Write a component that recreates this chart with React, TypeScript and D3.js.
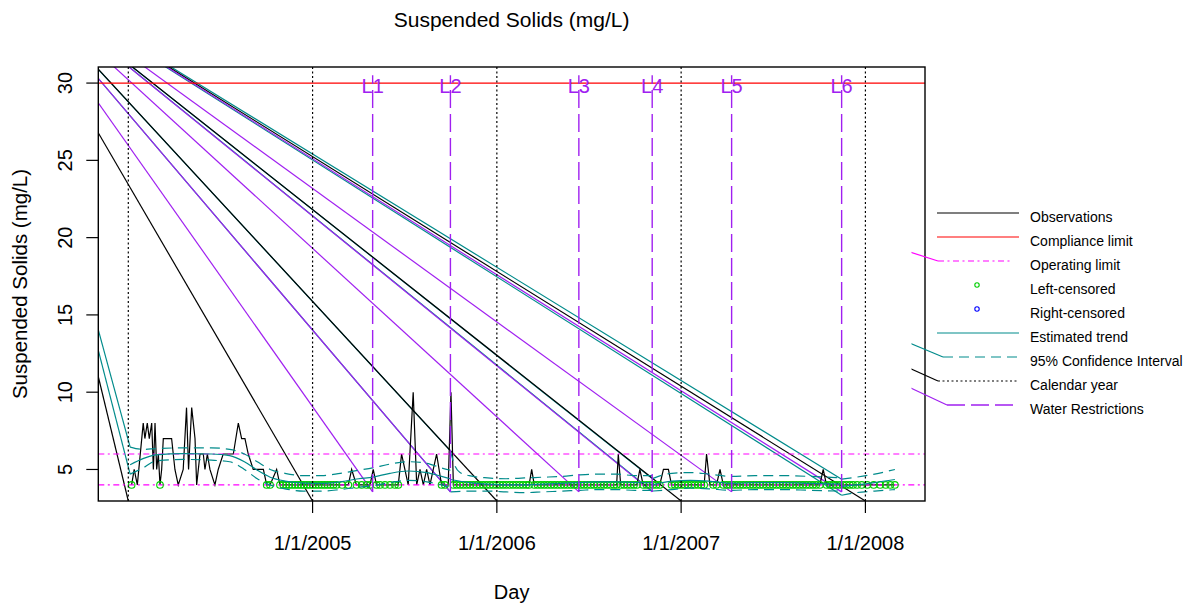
import React from 'react';
import * as d3 from 'd3';

// ---------- data (decimal years, mg/L) ----------
const xTickYears = [2005, 2006, 2007, 2008];
const xTickLabels = ['1/1/2005', '1/1/2006', '1/1/2007', '1/1/2008'];
const yTicks = [5, 10, 15, 20, 25, 30];
const calendarYears = [2004, 2005, 2006, 2007, 2008];
const restrictionLabels = ['L1', 'L2', 'L3', 'L4', 'L5', 'L6'];
const restrictionDates = [2005.326, 2005.748, 2006.445, 2006.843, 2007.274, 2007.871];
const restrictionSpan = [3.55, 30.5];
const complianceLimit = 30;
const operatingLimits = [6, 4];
// point from which the renderer's stray strokes start (outside plot, upper left)
const strayOrigin: [number, number] = [2003.293, 37.92];

// [year, value, leftCensored]
const observations: [number, number, number][] = [
  [2004.018, 4, 1], [2004.032, 5, 0], [2004.049, 4, 0], [2004.081, 8, 0], [2004.090, 7, 0], [2004.103, 8, 0],
  [2004.114, 7, 0], [2004.127, 8, 0], [2004.136, 5, 0], [2004.145, 8, 0], [2004.154, 5, 0], [2004.163, 6, 0],
  [2004.172, 4, 1], [2004.181, 5, 0], [2004.190, 7, 0], [2004.235, 7, 0], [2004.253, 5, 0], [2004.271, 4, 0],
  [2004.298, 5, 0], [2004.316, 9, 0], [2004.327, 5, 0], [2004.344, 9, 0], [2004.362, 7, 0], [2004.371, 4, 0],
  [2004.389, 6, 0], [2004.407, 6, 0], [2004.416, 5, 0], [2004.429, 6, 0], [2004.443, 5, 0], [2004.470, 4, 0],
  [2004.488, 5, 0], [2004.515, 6, 0], [2004.570, 6, 0], [2004.597, 8, 0], [2004.615, 7, 0], [2004.633, 7, 0],
  [2004.651, 6, 0], [2004.678, 5, 0], [2004.733, 5, 0], [2004.751, 4, 1], [2004.769, 4, 1], [2004.805, 5, 0],
  [2004.823, 4, 1], [2004.841, 4, 1], [2004.857, 4, 1], [2004.873, 4, 1], [2004.889, 4, 1], [2004.905, 4, 1],
  [2004.921, 4, 1], [2004.937, 4, 1], [2004.953, 4, 1], [2004.969, 4, 1], [2004.985, 4, 1], [2005.001, 4, 1],
  [2005.017, 4, 1], [2005.033, 4, 1], [2005.049, 4, 1], [2005.065, 4, 1], [2005.081, 4, 1], [2005.097, 4, 1],
  [2005.113, 4, 1], [2005.130, 4, 1], [2005.160, 4, 1], [2005.194, 4, 1], [2005.212, 5, 0], [2005.238, 4, 1],
  [2005.266, 4, 1], [2005.293, 4, 1], [2005.312, 4, 1], [2005.329, 5, 0], [2005.347, 4, 1], [2005.366, 4, 1],
  [2005.393, 4, 1], [2005.420, 4, 1], [2005.447, 4, 1], [2005.465, 4, 1], [2005.483, 6, 0], [2005.519, 4, 0],
  [2005.546, 10, 0], [2005.565, 4, 0], [2005.583, 5, 0], [2005.601, 4, 0], [2005.619, 5, 0], [2005.637, 4, 0],
  [2005.655, 5, 0], [2005.673, 6, 0], [2005.700, 4, 1], [2005.718, 4, 1], [2005.736, 4, 0], [2005.751, 10, 0],
  [2005.764, 4, 1], [2005.782, 4, 1], [2005.800, 4, 1], [2005.818, 4, 1], [2005.836, 4, 1], [2005.854, 4, 1],
  [2005.872, 4, 1], [2005.890, 4, 1], [2005.908, 4, 1], [2005.926, 4, 1], [2005.944, 4, 1], [2005.962, 4, 1],
  [2005.980, 4, 1], [2005.998, 4, 1], [2006.016, 4, 1], [2006.034, 4, 1], [2006.052, 4, 1], [2006.070, 4, 1],
  [2006.088, 4, 1], [2006.106, 4, 1], [2006.124, 4, 1], [2006.142, 4, 1], [2006.160, 4, 1], [2006.175, 4, 1],
  [2006.189, 5, 0], [2006.203, 4, 1], [2006.221, 4, 1], [2006.239, 4, 1], [2006.257, 4, 1], [2006.275, 4, 1],
  [2006.293, 4, 1], [2006.311, 4, 1], [2006.329, 4, 1], [2006.347, 4, 1], [2006.365, 4, 1], [2006.383, 4, 1],
  [2006.401, 4, 1], [2006.419, 4, 1], [2006.437, 4, 1], [2006.455, 4, 1], [2006.473, 4, 1], [2006.491, 4, 1],
  [2006.509, 4, 1], [2006.527, 4, 1], [2006.545, 4, 1], [2006.563, 4, 1], [2006.581, 4, 1], [2006.599, 4, 1],
  [2006.617, 4, 1], [2006.635, 4, 1], [2006.650, 4, 1], [2006.659, 6, 0], [2006.672, 4, 1], [2006.690, 4, 1],
  [2006.708, 4, 1], [2006.726, 4, 1], [2006.744, 4, 1], [2006.760, 4, 1], [2006.776, 5, 0], [2006.794, 4, 1],
  [2006.812, 4, 1], [2006.830, 4, 1], [2006.848, 4, 1], [2006.866, 4, 1], [2006.884, 4, 1], [2006.904, 5, 0],
  [2006.931, 5, 0], [2006.948, 4, 1], [2006.966, 4, 1], [2006.984, 4, 1], [2007.002, 4, 1], [2007.020, 4, 1],
  [2007.038, 4, 1], [2007.056, 4, 1], [2007.074, 4, 1], [2007.092, 4, 1], [2007.110, 4, 1], [2007.125, 4, 1],
  [2007.138, 6, 0], [2007.156, 4, 0], [2007.174, 4, 1], [2007.192, 4, 1], [2007.211, 5, 0], [2007.229, 4, 1],
  [2007.247, 4, 1], [2007.265, 4, 1], [2007.283, 4, 1], [2007.301, 4, 1], [2007.319, 4, 1], [2007.337, 4, 1],
  [2007.355, 4, 1], [2007.373, 4, 1], [2007.391, 4, 1], [2007.409, 4, 1], [2007.427, 4, 1], [2007.445, 4, 1],
  [2007.463, 4, 1], [2007.481, 4, 1], [2007.499, 4, 1], [2007.517, 4, 1], [2007.535, 4, 1], [2007.553, 4, 1],
  [2007.571, 4, 1], [2007.589, 4, 1], [2007.607, 4, 1], [2007.625, 4, 1], [2007.643, 4, 1], [2007.661, 4, 1],
  [2007.679, 4, 1], [2007.697, 4, 1], [2007.715, 4, 1], [2007.733, 4, 1], [2007.753, 4, 1], [2007.771, 5, 0],
  [2007.789, 4, 1], [2007.807, 4, 1], [2007.825, 4, 1], [2007.843, 4, 1], [2007.861, 4, 1], [2007.879, 4, 1],
  [2007.897, 4, 1], [2007.915, 4, 1], [2007.933, 4, 1], [2007.955, 4, 1], [2007.980, 4, 1], [2008.010, 4, 1],
  [2008.045, 4, 1], [2008.080, 4, 1], [2008.110, 4, 1], [2008.135, 4, 1], [2008.160, 4, 1],
];

const rightCensored: [number, number][] = [];

// Estimated trend and 95% CI, drawn in pieces
const trendSegments: [number, number][][] = [
  [[2004.01, 5.3], [2004.08, 5.7], [2004.15, 5.95], [2004.3, 6.02], [2004.45, 6.0], [2004.55, 5.9], [2004.63, 5.5], [2004.7, 4.95], [2004.77, 4.5], [2004.85, 4.25], [2004.95, 4.12], [2005.05, 4.1], [2005.15, 4.2], [2005.25, 4.4], [2005.326, 4.5], [2005.42, 4.75], [2005.52, 4.9], [2005.62, 4.8], [2005.7, 4.55], [2005.748, 4.4]],
  [[2005.748, 4.35], [2005.85, 4.15], [2005.95, 4.05], [2006.05, 4.0], [2006.15, 4.0], [2006.25, 4.05], [2006.35, 4.1], [2006.445, 4.15], [2006.55, 4.2], [2006.65, 4.2], [2006.75, 4.15], [2006.843, 4.15]],
  [[2006.843, 4.0], [2006.95, 4.25], [2007.05, 4.3], [2007.15, 4.25], [2007.274, 4.1], [2007.4, 4.15], [2007.55, 4.15], [2007.7, 4.1], [2007.871, 4.05]],
  [[2007.871, 3.9], [2007.95, 4.0], [2008.05, 4.15], [2008.16, 4.35]],
];
const ciUpperSegments: [number, number][][] = [
  [[2004.01, 6.45], [2004.08, 6.3], [2004.15, 6.35], [2004.3, 6.4], [2004.45, 6.4], [2004.55, 6.3], [2004.63, 6.0], [2004.7, 5.5], [2004.77, 5.0], [2004.85, 4.75], [2004.95, 4.6], [2005.05, 4.6], [2005.15, 4.75], [2005.25, 4.95], [2005.326, 5.1], [2005.42, 5.35], [2005.52, 5.5], [2005.62, 5.4], [2005.7, 5.1], [2005.748, 4.95]],
  [[2005.748, 6.2], [2005.77, 5.3], [2005.8, 4.8], [2005.85, 4.6], [2005.95, 4.45], [2006.05, 4.4], [2006.15, 4.45], [2006.25, 4.5], [2006.35, 4.55], [2006.45, 4.65], [2006.55, 4.7], [2006.65, 4.7], [2006.75, 4.6], [2006.843, 4.6]],
  [[2006.843, 4.41], [2006.95, 4.75], [2007.05, 4.8], [2007.15, 4.7], [2007.274, 4.55], [2007.4, 4.6], [2007.55, 4.6], [2007.7, 4.55], [2007.871, 4.45]],
  [[2007.871, 4.37], [2007.95, 4.5], [2008.05, 4.7], [2008.16, 5.0]],
];
const ciLowerSegments: [number, number][][] = [
  [[2004.01, 4.7], [2004.08, 5.1], [2004.15, 5.55], [2004.3, 5.65], [2004.45, 5.6], [2004.55, 5.5], [2004.63, 5.0], [2004.7, 4.4], [2004.77, 4.0], [2004.85, 3.75], [2004.95, 3.6], [2005.05, 3.6], [2005.15, 3.7], [2005.25, 3.85], [2005.326, 3.95], [2005.42, 4.15], [2005.52, 4.3], [2005.62, 4.2], [2005.7, 4.0], [2005.748, 3.85]],
  [[2005.748, 3.55], [2005.85, 3.6], [2005.95, 3.6], [2006.05, 3.55], [2006.15, 3.5], [2006.25, 3.55], [2006.35, 3.6], [2006.45, 3.65], [2006.55, 3.7], [2006.65, 3.7], [2006.75, 3.65], [2006.843, 3.65]],
  [[2006.843, 3.6], [2006.95, 3.7], [2007.05, 3.8], [2007.15, 3.75], [2007.274, 3.65], [2007.4, 3.7], [2007.55, 3.7], [2007.7, 3.65], [2007.871, 3.6]],
  [[2007.871, 3.33], [2007.95, 3.5], [2008.05, 3.6], [2008.16, 3.7]],
];

const legendLabels = ['Observations', 'Compliance limit', 'Operating limit', 'Left-censored', 'Right-censored', 'Estimated trend', '95% Confidence Interval', 'Calendar year', 'Water Restrictions'];

// ---------- styles ----------
const W = 1197, H = 605;
const PL = 98.3, PR = 925, PT = 67, PB = 501;
const FONT = '"Liberation Sans", Arial, Helvetica, sans-serif';
const C_OBS = '#000000', C_COMP = '#FF0000', C_OPER = '#FF00FF', C_LEFT = '#00CD00', C_RIGHT = '#0000FF';
const C_TREND = '#008B8B', C_CAL = '#000000', C_WATER = '#A020F0';
const DASH_CI = '10,6', DASH_WATER = '18,6', DASH_OPER = '6,3.5,2,3.5', DASH_CAL = '2,2.5';
const LW = 1.2;

export default function App() {
  const xS = d3.scaleLinear().domain([2003.8372, 2008.3234]).range([PL, PR]);
  const yS = d3.scaleLinear().domain([2.96, 31.04]).range([PB, PT]);
  const line = d3.line<[number, number]>().x(d => xS(d[0])).y(d => yS(d[1]));
  const smooth = d3.line<[number, number]>().x(d => xS(d[0])).y(d => yS(d[1])).curve(d3.curveMonotoneX);
  const ox = xS(strayOrigin[0]), oy = yS(strayOrigin[1]);
  const [yLo, yHi] = yS.domain();

  const stray = (x: number, y: number, color: string, key: string) => (
    <line key={key} x1={ox} y1={oy} x2={x} y2={y} stroke={color} strokeWidth={LW} />
  );

  const obsLine: [number, number][] = observations.map(d => [d[0], d[1]]);
  const leftCens = observations.filter(d => d[2] === 1);

  const lgY0 = 213, lgDY = 24, lgX1 = 937, lgX2 = 1019, lgText = 1030;

  return (
    <svg width={W} height={H} style={{ position: 'absolute', left: 0, top: 0, background: '#fff' }} fontFamily={FONT}>
      <defs>
        <clipPath id="plotClip"><rect x={PL} y={PT} width={PR - PL} height={PB - PT} /></clipPath>
        <clipPath id="legClip"><rect x={911.5} y={0} width={W - 911.5} height={H} /></clipPath>
      </defs>
      <rect x={0} y={0} width={W} height={H} fill="#fff" />

      <g clipPath="url(#plotClip)">
        {ciUpperSegments.map((s, i) => stray(xS(s[0][0]), yS(s[0][1]), C_TREND, 'su' + i))}
        {ciLowerSegments.map((s, i) => stray(xS(s[0][0]), yS(s[0][1]), C_TREND, 'sl' + i))}
        {calendarYears.map((yr, i) => stray(xS(yr), yS(yLo), C_CAL, 'sc' + i))}
        {restrictionDates.map((d, i) => stray(xS(d), yS(restrictionSpan[0]), C_WATER, 'sw' + i))}
        {operatingLimits.map((v, i) => stray(PL, yS(v), C_OPER, 'so' + i))}

        <path d={line(obsLine) || ''} fill="none" stroke={C_OBS} strokeWidth={LW} />
        <line x1={PL} x2={PR} y1={yS(complianceLimit)} y2={yS(complianceLimit)} stroke={C_COMP} strokeWidth={LW} />
        {operatingLimits.map((v, i) => (
          <line key={'op' + i} x1={PL} x2={PR} y1={yS(v)} y2={yS(v)} stroke={C_OPER} strokeWidth={LW} strokeDasharray={DASH_OPER} />
        ))}
        {leftCens.map((d, i) => (
          <circle key={'lc' + i} cx={xS(d[0])} cy={yS(d[1])} r={3.3} fill="none" stroke={C_LEFT} strokeWidth={1.1} />
        ))}
        {rightCensored.map((d, i) => (
          <circle key={'rc' + i} cx={xS(d[0])} cy={yS(d[1])} r={3.3} fill="none" stroke={C_RIGHT} strokeWidth={1.1} />
        ))}
        {trendSegments.map((s, i) => (
          <path key={'tr' + i} d={smooth(s) || ''} fill="none" stroke={C_TREND} strokeWidth={LW} />
        ))}
        {ciUpperSegments.map((s, i) => (
          <path key={'cu' + i} d={smooth(s) || ''} fill="none" stroke={C_TREND} strokeWidth={LW} strokeDasharray={DASH_CI} />
        ))}
        {ciLowerSegments.map((s, i) => (
          <path key={'cl' + i} d={smooth(s) || ''} fill="none" stroke={C_TREND} strokeWidth={LW} strokeDasharray={DASH_CI} />
        ))}
        {calendarYears.map((yr, i) => (
          <line key={'cy' + i} x1={xS(yr)} x2={xS(yr)} y1={yS(yLo)} y2={yS(yHi)} stroke={C_CAL} strokeWidth={LW} strokeDasharray={DASH_CAL} />
        ))}
        {restrictionDates.map((d, i) => (
          <g key={'wr' + i}>
            <line x1={xS(d)} x2={xS(d)} y1={yS(restrictionSpan[0])} y2={yS(restrictionSpan[1])} stroke={C_WATER} strokeWidth={1.4} strokeDasharray={DASH_WATER} />
            <text x={xS(d)} y={yS(complianceLimit) + 10} textAnchor="middle" fontSize={20} fill={C_WATER}>{restrictionLabels[i]}</text>
          </g>
        ))}
      </g>

      <rect x={PL} y={PT} width={PR - PL} height={PB - PT} fill="none" stroke="#000" strokeWidth={1.4} />

      {xTickYears.map((yr, i) => (
        <g key={'xt' + i}>
          <line x1={xS(yr)} x2={xS(yr)} y1={PB} y2={PB + 12} stroke="#000" strokeWidth={LW} />
          <text x={xS(yr)} y={550} textAnchor="middle" fontSize={20} fill="#000">{xTickLabels[i]}</text>
        </g>
      ))}
      <text x={(PL + PR) / 2} y={599} textAnchor="middle" fontSize={20} fill="#000">Day</text>

      {yTicks.map((v, i) => (
        <g key={'yt' + i}>
          <line x1={PL - 12} x2={PL} y1={yS(v)} y2={yS(v)} stroke="#000" strokeWidth={LW} />
          <text transform={`translate(72,${yS(v)}) rotate(-90)`} textAnchor="middle" fontSize={20} fill="#000">{v}</text>
        </g>
      ))}
      <text transform={`translate(27,${(PT + PB) / 2}) rotate(-90)`} textAnchor="middle" fontSize={20.5} fill="#000">Suspended Solids (mg/L)</text>

      <text x={(PL + PR) / 2} y={27} textAnchor="middle" fontSize={21} fill="#000">Suspended Solids (mg/L)</text>

      <g clipPath="url(#legClip)">
        {stray(938, lgY0 + 2 * lgDY, C_OPER, 'lo')}
        {stray(943, lgY0 + 6 * lgDY, C_TREND, 'lci')}
        {stray(938, lgY0 + 7 * lgDY, C_CAL, 'lcal')}
        {stray(947, lgY0 + 8 * lgDY, C_WATER, 'lw')}
      </g>
      <line x1={lgX1} x2={lgX2} y1={lgY0} y2={lgY0} stroke={C_OBS} strokeWidth={LW} />
      <line x1={lgX1} x2={lgX2} y1={lgY0 + lgDY} y2={lgY0 + lgDY} stroke={C_COMP} strokeWidth={LW} />
      <line x1={938} x2={1013} y1={lgY0 + 2 * lgDY} y2={lgY0 + 2 * lgDY} stroke={C_OPER} strokeWidth={LW} strokeDasharray={DASH_OPER} />
      <circle cx={977} cy={lgY0 + 3 * lgDY} r={2.2} fill="none" stroke={C_LEFT} strokeWidth={1.1} />
      <circle cx={977} cy={lgY0 + 4 * lgDY} r={2.2} fill="none" stroke={C_RIGHT} strokeWidth={1.1} />
      <line x1={lgX1} x2={lgX2} y1={lgY0 + 5 * lgDY} y2={lgY0 + 5 * lgDY} stroke={C_TREND} strokeWidth={LW} />
      <line x1={943} x2={1019} y1={lgY0 + 6 * lgDY} y2={lgY0 + 6 * lgDY} stroke={C_TREND} strokeWidth={LW} strokeDasharray={DASH_CI} />
      <line x1={938} x2={1019} y1={lgY0 + 7 * lgDY} y2={lgY0 + 7 * lgDY} stroke={C_CAL} strokeWidth={LW} strokeDasharray={DASH_CAL} />
      <line x1={947} x2={1014} y1={lgY0 + 8 * lgDY} y2={lgY0 + 8 * lgDY} stroke={C_WATER} strokeWidth={1.4} strokeDasharray={DASH_WATER} />
      {legendLabels.map((t, i) => (
        <text key={'lg' + i} x={lgText} y={lgY0 + i * lgDY + 9} fontSize={14} fill="#000">{t}</text>
      ))}
    </svg>
  );
}
